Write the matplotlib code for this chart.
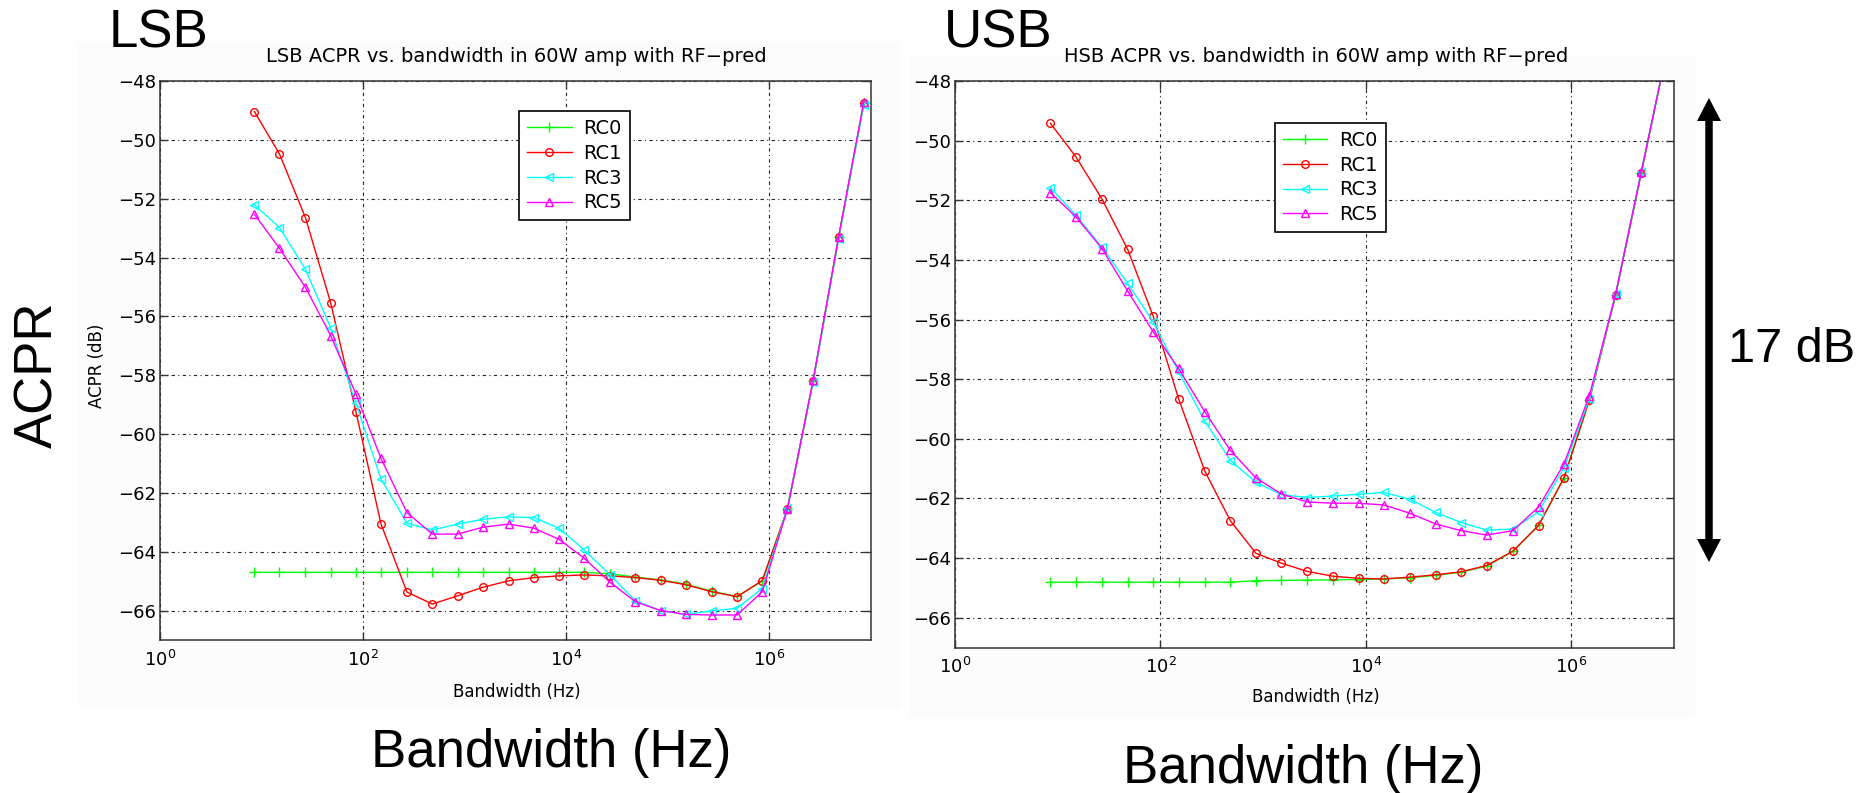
import matplotlib
matplotlib.use("Agg")
import matplotlib.pyplot as plt
import matplotlib.ticker as mticker
from matplotlib.patches import Rectangle, Polygon
from matplotlib.lines import Line2D

# ---- data -------------------------------------------------------------
bandwidth_hz = [8.5, 15, 27, 48, 85, 150, 270, 480, 850,
                1.5e3, 2.7e3, 4.8e3, 8.5e3, 1.5e4, 2.7e4, 4.8e4, 8.5e4,
                1.5e5, 2.7e5, 4.8e5, 8.5e5, 1.5e6, 2.7e6, 4.8e6, 8.5e6]

series_names = ["RC0", "RC1", "RC3", "RC5"]

lsb_rc0 = [-64.70, -64.70, -64.70, -64.70, -64.70, -64.70, -64.70, -64.70,
           -64.70, -64.70, -64.70, -64.70, -64.70, -64.70, -64.75, -64.86,
           -64.96, -65.10, -65.34, -65.52, -65.00, -62.54, -58.18, -53.30,
           -48.75]
lsb_rc1 = [-49.04, -50.48, -52.64, -55.55, -59.25, -63.06, -65.37, -65.78,
           -65.50, -65.21, -64.99, -64.88, -64.82, -64.79, -64.82, -64.88,
           -64.97, -65.12, -65.36, -65.53, -64.98, -62.56, -58.18, -53.31,
           -48.76]
lsb_rc3 = [-52.21, -52.98, -54.40, -56.40, -58.96, -61.53, -63.03, -63.26,
           -63.06, -62.90, -62.81, -62.84, -63.20, -63.94, -64.79, -65.67,
           -66.00, -66.13, -66.01, -65.92, -65.25, -62.53, -58.22, -53.36,
           -48.80]
lsb_rc5 = [-52.53, -53.69, -55.01, -56.66, -58.64, -60.83, -62.67, -63.40,
           -63.40, -63.17, -63.06, -63.20, -63.58, -64.22, -65.04, -65.70,
           -66.00, -66.13, -66.15, -66.15, -65.36, -62.56, -58.15, -53.30,
           -48.70]

usb_rc0 = [-64.81, -64.81, -64.81, -64.81, -64.81, -64.81, -64.81, -64.81,
           -64.76, -64.75, -64.74, -64.73, -64.72, -64.70, -64.66, -64.58,
           -64.47, -64.27, -63.78, -62.90, -61.30, -58.70, -55.18, -51.08,
           -47.00]
usb_rc1 = [-49.42, -50.54, -51.96, -53.65, -55.89, -58.65, -61.08, -62.75,
           -63.84, -64.17, -64.45, -64.61, -64.68, -64.70, -64.64, -64.56,
           -64.46, -64.25, -63.77, -62.91, -61.31, -58.69, -55.18, -51.08,
           -47.00]
usb_rc3 = [-51.58, -52.50, -53.58, -54.79, -56.08, -57.75, -59.40, -60.73,
           -61.46, -61.87, -61.97, -61.92, -61.86, -61.80, -62.03, -62.47,
           -62.81, -63.06, -63.03, -62.45, -60.97, -58.65, -55.15, -51.05,
           -47.00]
usb_rc5 = [-51.75, -52.55, -53.62, -55.05, -56.41, -57.64, -59.09, -60.39,
           -61.31, -61.85, -62.12, -62.16, -62.16, -62.22, -62.50, -62.86,
           -63.08, -63.23, -63.08, -62.29, -60.84, -58.55, -55.15, -51.05,
           -47.00]

x_ticks = [1, 1e2, 1e4, 1e6]
y_ticks = [-66, -64, -62, -60, -58, -56, -54, -52, -50, -48]

lsb_title = "LSB ACPR vs. bandwidth in 60W amp with RF\u2212pred"
usb_title = "HSB ACPR vs. bandwidth in 60W amp with RF\u2212pred"

# ---- styling ----------------------------------------------------------
W, H = 1873, 793
plt.rcParams["font.family"] = ["DejaVu Sans"]
BIG = ["Liberation Sans", "DejaVu Sans"]

colors = ["#00ff00", "#ff0000", "#00ffff", "#ff00ff"]
markers = ["+", "o", "<", "^"]
msizes = [7, 5.5, 6, 6]


def fx(px):
    return px / W


def fy(py):
    return 1 - py / H


fig = plt.figure(figsize=(W / 100, H / 100), dpi=100)
fig.patch.set_facecolor("white")

# faint panel backgrounds behind each subplot
for (x0, y0, x1, y1) in [(78, 42, 900, 708), (910, 56, 1695, 718)]:
    fig.patches.append(Rectangle((fx(x0), fy(y1)), fx(x1) - fx(x0),
                                 fy(y0) - fy(y1), transform=fig.transFigure,
                                 facecolor="#fcfcfc", edgecolor="none",
                                 zorder=-5))

axL = fig.add_axes([fx(160), fy(640), fx(871) - fx(160), fy(81) - fy(640)])
axR = fig.add_axes([fx(955), fy(647.5), fx(1674) - fx(955),
                    fy(81) - fy(647.5)])


def style_axes(ax):
    ax.set_facecolor("white")
    ax.set_xscale("log")
    ax.set_xlim(1, 1e7)
    ax.set_ylim(-67, -48)
    ax.set_xticks(x_ticks)
    ax.xaxis.set_minor_locator(mticker.NullLocator())
    ax.set_yticks(y_ticks)
    ax.set_yticklabels([f"\u2212{abs(v)}" for v in y_ticks])
    ax.grid(True, linestyle=(0, (3, 3, 1, 3)), linewidth=0.8, color="#222222")
    ax.tick_params(axis="both", which="major", direction="in", top=True,
                   right=True, length=6, width=1.0, labelsize=13,
                   color="#333333")
    ax.tick_params(axis="x", pad=7)
    ax.tick_params(axis="y", pad=3)
    for s in ax.spines.values():
        s.set_linewidth(1.1)
        s.set_color("#333333")


def draw_series(ax, ys):
    handles = []
    for y, c, m, ms, name in zip(ys, colors, markers, msizes, series_names):
        h, = ax.plot(bandwidth_hz, y, color=c, marker=m, markersize=ms,
                     markerfacecolor="none", markeredgecolor=c,
                     markeredgewidth=1.0, linewidth=1.0, label=name)
        handles.append(h)
    return handles


style_axes(axL)
style_axes(axR)
hL = draw_series(axL, [lsb_rc0, lsb_rc1, lsb_rc3, lsb_rc5])
hR = draw_series(axR, [usb_rc0, usb_rc1, usb_rc3, usb_rc5])

for ax, anchor in [(axL, (0.505, 0.946)), (axR, (0.445, 0.926))]:
    leg = ax.legend(loc="upper left", bbox_to_anchor=anchor, borderaxespad=0,
                    fontsize=14, frameon=True, fancybox=False, framealpha=1,
                    edgecolor="black", handlelength=2.3, handletextpad=0.6,
                    borderpad=0.4, labelspacing=0.3)
    leg.get_frame().set_linewidth(1.2)

# plot titles and small axis labels
fig.text(fx(516), fy(57), lsb_title, ha="center", va="center", fontsize=14)
fig.text(fx(1316), fy(57), usb_title, ha="center", va="center", fontsize=14)
fig.text(fx(517), fy(692), "Bandwidth (Hz)", ha="center", va="center",
         fontsize=12)
fig.text(fx(1316), fy(697), "Bandwidth (Hz)", ha="center", va="center",
         fontsize=12)
fig.text(fx(97), fy(366), "ACPR (dB)", ha="center", va="center",
         rotation=90, fontsize=12)

# large annotation labels
fig.text(fx(109), fy(47), "LSB", ha="left", va="baseline", fontsize=38,
         family=BIG)
fig.text(fx(944), fy(47), "USB", ha="left", va="baseline", fontsize=38,
         family=BIG)
fig.text(fx(52), fy(375), "ACPR", ha="center", va="baseline", rotation=90,
         rotation_mode="anchor", fontsize=38, family=BIG)
fig.text(fx(551), fy(767), "Bandwidth (Hz)", ha="center", va="baseline",
         fontsize=38, family=BIG)
fig.text(fx(1303), fy(783), "Bandwidth (Hz)", ha="center", va="baseline",
         fontsize=38, family=BIG)
fig.text(fx(1792), fy(362), "17 dB", ha="center", va="baseline",
         fontsize=35, family=BIG)

# double-headed arrow marking the 17 dB span
ax_x, top_y, bot_y, head_len, head_half = 1709, 98, 562, 23, 12
fig.lines.append(Line2D([fx(ax_x), fx(ax_x)],
                        [fy(top_y + head_len - 2), fy(bot_y - head_len + 2)],
                        transform=fig.transFigure, color="black",
                        linewidth=5.4, solid_capstyle="butt"))
for tip, base in [(top_y, top_y + head_len), (bot_y, bot_y - head_len)]:
    fig.patches.append(Polygon([(fx(ax_x), fy(tip)),
                                (fx(ax_x - head_half), fy(base)),
                                (fx(ax_x + head_half), fy(base))],
                               closed=True, transform=fig.transFigure,
                               facecolor="black", edgecolor="none"))

fig.savefig("out.png", dpi=100, facecolor="white")
